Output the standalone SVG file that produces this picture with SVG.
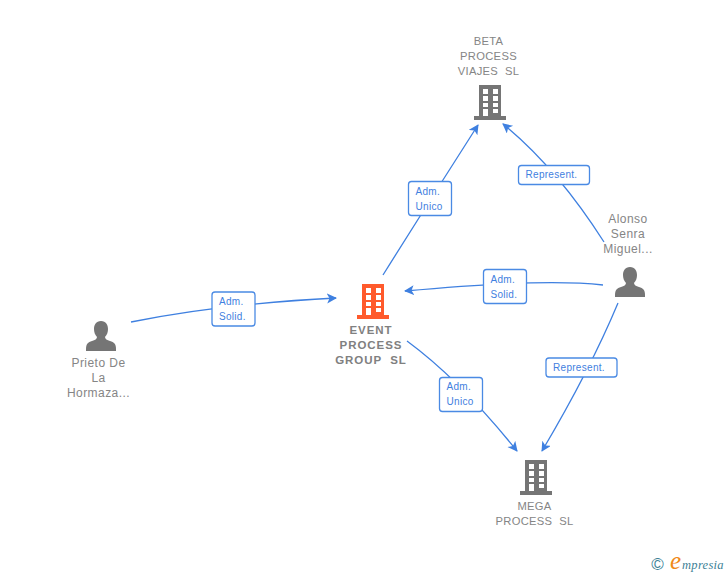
<svg xmlns="http://www.w3.org/2000/svg" width="728" height="575" viewBox="0 0 728 575">
<style>
text{font-family:"Liberation Sans",Arial,sans-serif;white-space:pre}
.n{font-size:12px;fill:#858585;text-anchor:middle;letter-spacing:.45px}
.c{font-size:11.2px;fill:#858585;text-anchor:middle;letter-spacing:.3px}
.b{font-weight:bold;font-size:11.5px;fill:#808080;text-anchor:middle;letter-spacing:.95px}
.e{fill:none;stroke:#3f80e0;stroke-width:1.300}
.l{fill:#fff;stroke:#4a8ae4;stroke-width:1.300}
.t{font-size:10px;fill:#3f80e0;letter-spacing:.3px}
.w{fill:#fff}
</style>
<defs>
<marker id="a" markerWidth="12" markerHeight="12" refX="9" refY="5" orient="auto" markerUnits="userSpaceOnUse"><path d="M0 0L10 5L0 10L2.500 5Z" fill="#3f80e0"/></marker>
<g id="bld"><path d="M-11 -18h22v31h5v4h-32v-4h5z"/></g>
<g id="win" class="w"><rect x="-7" y="-14" width="5" height="5"/><rect x="3" y="-14" width="5" height="5"/><rect x="-7" y="-7" width="5" height="5"/><rect x="3" y="-7" width="5" height="5"/><rect x="-7" y="0" width="5" height="4"/><rect x="3" y="0" width="5" height="4"/><rect x="-7" y="6" width="5" height="7"/><rect x="3" y="6" width="5" height="4"/></g>
<path id="per" d="M0 -14c5 0 7 4 7 8c0 3-1 6-3 8c0 2 2 3 5 4c4 1 6 3 6 8v2h-30v-2c0-5 2-7 6-8c3-1 5-2 5-4c-2-2-3-5-3-8c0-4 2-8 7-8z"/>
</defs>
<g id="connectors">
<path class="e" marker-end="url(#a)" d="M131 322Q220 304 336 298"/>
<path class="e" marker-end="url(#a)" d="M383 275Q430 200 478 125"/>
<path class="e" marker-end="url(#a)" d="M603 285C560 280 480 284 405 291"/>
<path class="e" marker-end="url(#a)" d="M407 341Q460 380 517 451"/>
<path class="e" marker-end="url(#a)" d="M604 242Q556 167 503 124"/>
<path class="e" marker-end="url(#a)" d="M618 303Q590 370 542 451"/>
</g>
<g id="edge-labels">
<g><rect class="l" x="212" y="292" width="43" height="34" rx="3"/><text class="t" x="219" y="305">Adm.</text><text class="t" x="219" y="320">Solid.</text></g>
<g><rect class="l" x="408.500" y="181.500" width="43" height="34" rx="3"/><text class="t" x="415.500" y="195">Adm.</text><text class="t" x="415.500" y="210">Unico</text></g>
<g><rect class="l" x="518.500" y="165.500" width="71" height="19" rx="3"/><text class="t" x="525.500" y="178">Represent.</text></g>
<g><rect class="l" x="483.500" y="269.500" width="43" height="34" rx="3"/><text class="t" x="490.500" y="283">Adm.</text><text class="t" x="490.500" y="298">Solid.</text></g>
<g><rect class="l" x="439.500" y="377.500" width="43" height="34" rx="3"/><text class="t" x="446.500" y="390">Adm.</text><text class="t" x="446.500" y="405">Unico</text></g>
<g><rect class="l" x="546" y="358" width="71" height="19" rx="3"/><text class="t" x="553" y="371">Represent.</text></g>
</g>
<g id="node-event"><use href="#bld" x="373" y="302" fill="#ff5a2c"/><use href="#win" x="373" y="302"/><text class="b" x="371" y="334">EVENT</text><text class="b" x="371" y="349">PROCESS</text><text class="b" x="371" y="364">GROUP  SL</text></g>
<g id="node-beta"><use href="#bld" x="490" y="103" fill="#757575"/><use href="#win" x="490" y="103"/><text class="c" x="488.500" y="45">BETA</text><text class="c" x="488.500" y="60">PROCESS</text><text class="c" x="488.500" y="75">VIAJES  SL</text></g>
<g id="node-mega"><use href="#bld" x="536" y="478" fill="#757575"/><use href="#win" x="536" y="478"/><text class="c" x="534.500" y="510">MEGA</text><text class="c" x="534.500" y="525">PROCESS  SL</text></g>
<g id="node-alonso"><use href="#per" x="630" y="281" fill="#757575"/><text class="n" x="628" y="223">Alonso</text><text class="n" x="628" y="238">Senra</text><text class="n" x="628" y="253">Miguel...</text></g>
<g id="node-prieto"><use href="#per" x="101" y="335" fill="#757575"/><text class="n" x="98.500" y="367">Prieto De</text><text class="n" x="98.500" y="382">La</text><text class="n" x="98.500" y="397">Hormaza...</text></g>
<g id="logo"><text x="657.500" y="570" font-size="17" fill="#3d7f96" text-anchor="middle">©</text><text x="670" y="569" font-size="25" font-style="italic" fill="#f08a1a" style="font-family:'Liberation Serif',serif">e</text><text x="682" y="569" font-size="12.500" font-style="italic" fill="#3d7f96" style="font-family:'Liberation Serif',serif" letter-spacing=".3">mpresia</text></g>
</svg>
